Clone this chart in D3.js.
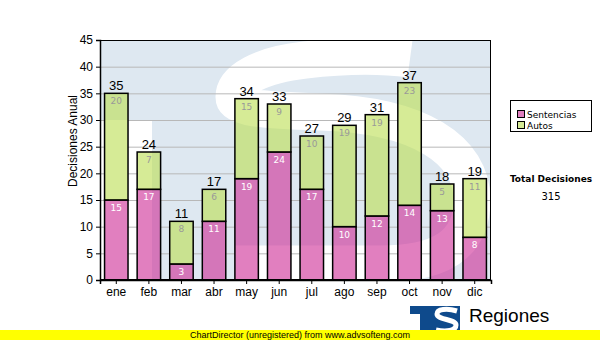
<!DOCTYPE html>
<html>
<head>
<meta charset="utf-8">
<script src="https://cdn.jsdelivr.net/npm/d3@7/dist/d3.min.js"></script>
<style>
  html, body { margin: 0; padding: 0; background: #fff; }
  svg { display: block; }
</style>
</head>
<body>
<svg id="chart" width="600" height="340"></svg>
<script>
// Monthly decisions, split by type
const months = ["ene", "feb", "mar", "abr", "may", "jun", "jul", "ago", "sep", "oct", "nov", "dic"];
const sentencias = [15, 17, 3, 11, 19, 24, 17, 10, 12, 14, 13, 8];
const autos = [20, 7, 8, 6, 15, 9, 10, 19, 19, 23, 5, 11];
const seriesNames = ["Sentencias", "Autos"];
const yTicks = [0, 5, 10, 15, 20, 25, 30, 35, 40, 45];

const svg = d3.select("#chart");
const plot = { left: 100, top: 40, right: 491, bottom: 280 };
const colors = { Sentencias: "rgba(205,42,148,0.6)", Autos: "rgba(187,222,80,0.6)" };
const swatch = { Sentencias: "#e07fbf", Autos: "#d6eb96" };

const x = d3.scaleBand().domain(months).range([plot.left, plot.right])
  .paddingInner(0.28).paddingOuter(0.14);
const y = d3.scaleLinear().domain([0, 45]).range([plot.bottom, plot.top]);

const rows = months.map((m, i) => ({ month: m, Sentencias: sentencias[i], Autos: autos[i] }));
const stacked = d3.stack().keys(seriesNames)(rows);

const defs = svg.append("defs");
defs.append("clipPath").attr("id", "plotClip")
  .append("rect").attr("x", plot.left).attr("y", plot.top)
  .attr("width", plot.right - plot.left).attr("height", plot.bottom - plot.top);

// grid lines are hidden where the bars stand
const mask = defs.append("mask").attr("id", "gridMask");
mask.append("rect").attr("x", 0).attr("y", 0).attr("width", 600).attr("height", 340).attr("fill", "#fff");
mask.selectAll("rect.bar").data(rows).join("rect")
  .attr("x", d => x(d.month)).attr("y", d => y(d.Sentencias + d.Autos))
  .attr("width", x.bandwidth()).attr("height", d => y(0) - y(d.Sentencias + d.Autos))
  .attr("fill", "#000");

// plot background with the emblem watermark
const bg = svg.append("g").attr("clip-path", "url(#plotClip)");
bg.append("rect").attr("x", plot.left).attr("y", plot.top)
  .attr("width", plot.right - plot.left).attr("height", plot.bottom - plot.top)
  .attr("fill", "#dee8f1");
bg.append("rect").attr("x", plot.left).attr("y", 120)
  .attr("width", 52).attr("height", 160).attr("fill", "#fff");
bg.append("path")
  .attr("d", "M 410,59 C 380,55 340,56 305,60 C 260,65 234,80 234,97 C 234,108 260,110 320,112 C 420,115 472,150 472,200 C 472,245 440,264 380,264 L 235,264")
  .attr("fill", "none").attr("stroke", "#fff").attr("stroke-width", 37);

// horizontal grid
svg.append("g").attr("mask", "url(#gridMask)")
  .selectAll("line").data(yTicks.filter(t => t > 0 && t < 45)).join("line")
  .attr("x1", plot.left).attr("x2", plot.right)
  .attr("y1", d => y(d) + 0.5).attr("y2", d => y(d) + 0.5)
  .attr("stroke", "#b8b8b8").attr("stroke-width", 1);

// stacked bars
const layers = svg.append("g").selectAll("g").data(stacked).join("g")
  .attr("fill", d => colors[d.key]);
layers.selectAll("rect").data(d => d).join("rect")
  .attr("x", d => x(d.data.month)).attr("y", d => y(d[1]))
  .attr("width", x.bandwidth()).attr("height", d => y(d[0]) - y(d[1]))
  .attr("stroke", "#000").attr("stroke-width", 1.5);

// segment labels
const segLabels = svg.append("g").attr("font-family", "DejaVu Sans, sans-serif")
  .attr("font-size", 9).attr("text-anchor", "middle");
stacked.forEach(layer => {
  segLabels.append("g").attr("fill", layer.key === "Sentencias" ? "#ffffff" : "#999999")
    .selectAll("text").data(layer).join("text")
    .attr("x", d => x(d.data.month) + x.bandwidth() / 2)
    .attr("y", d => y(d[1]) + 11)
    .text(d => d[1] - d[0]);
});

// totals above bars
svg.append("g").attr("font-family", "Liberation Sans, Arial, sans-serif")
  .attr("font-size", 13).attr("text-anchor", "middle").attr("fill", "#000")
  .selectAll("text").data(rows).join("text")
  .attr("x", d => x(d.month) + x.bandwidth() / 2)
  .attr("y", d => y(d.Sentencias + d.Autos) - 3)
  .text(d => d.Sentencias + d.Autos);

// frame
svg.append("rect").attr("x", plot.left + 0.5).attr("y", plot.top + 0.5)
  .attr("width", plot.right - plot.left - 1).attr("height", plot.bottom - plot.top - 1)
  .attr("fill", "none").attr("stroke", "#000").attr("stroke-width", 1);

// axes
const yAxis = svg.append("g").attr("transform", `translate(${plot.left},0)`)
  .call(d3.axisLeft(y).tickValues(yTicks).tickSize(4).tickPadding(3));
const xAxis = svg.append("g").attr("transform", `translate(0,${plot.bottom})`)
  .call(d3.axisBottom(x).tickSize(4).tickPadding(3));
[yAxis, xAxis].forEach(a => {
  a.select(".domain").attr("stroke", "#000").attr("stroke-width", 1.5);
  a.selectAll(".tick line").attr("stroke", "#000");
  a.selectAll("text").attr("font-family", "Liberation Sans, Arial, sans-serif")
    .attr("font-size", 12).attr("fill", "#000");
});

svg.append("text").attr("transform", "translate(77,141) rotate(-90)")
  .attr("text-anchor", "middle").attr("font-family", "Liberation Sans, Arial, sans-serif")
  .attr("font-size", 12).attr("fill", "#000").text("Decisiones Anual");

// legend
const legend = svg.append("g");
legend.append("rect").attr("x", 510.5).attr("y", 100.5).attr("width", 81).attr("height", 31)
  .attr("fill", "#fff").attr("stroke", "#000");
seriesNames.forEach((name, i) => {
  legend.append("rect").attr("x", 517.5).attr("y", 110.5 + i * 11).attr("width", 7).attr("height", 7)
    .attr("fill", swatch[name]).attr("stroke", "#000");
  legend.append("text").attr("x", 527).attr("y", 118 + i * 11)
    .attr("font-family", "DejaVu Sans, sans-serif").attr("font-size", 9).attr("fill", "#000")
    .text(name);
});

// overall total
svg.append("text").attr("x", 551).attr("y", 182).attr("text-anchor", "middle")
  .attr("font-family", "DejaVu Sans, sans-serif").attr("font-size", 9).attr("font-weight", "bold")
  .text("Total Decisiones");
svg.append("text").attr("x", 551).attr("y", 200).attr("text-anchor", "middle")
  .attr("font-family", "DejaVu Sans, sans-serif").attr("font-size", 10)
  .text(d3.sum(sentencias) + d3.sum(autos));

// emblem and name
const logo = svg.append("g");
logo.append("clipPath").attr("id", "logoClip").append("rect")
  .attr("x", 410).attr("y", 306).attr("width", 50).attr("height", 34);
const lg = logo.append("g").attr("clip-path", "url(#logoClip)");
lg.append("rect").attr("x", 410).attr("y", 306).attr("width", 50).attr("height", 34).attr("fill", "#0e4a8c");
lg.append("rect").attr("x", 410).attr("y", 314).attr("width", 10).attr("height", 26).attr("fill", "#fff");
lg.append("path")
  .attr("d", "M 457,311 C 447,308 437,309 437,314 C 437,320 456,319 456,325 C 456,331 446,332 436,330")
  .attr("fill", "none").attr("stroke", "#fff").attr("stroke-width", 5);
svg.append("text").attr("x", 469).attr("y", 322)
  .attr("font-family", "Liberation Sans, Arial, sans-serif").attr("font-size", 19).attr("fill", "#000")
  .text("Regiones");

// footer strip
svg.append("rect").attr("x", 0).attr("y", 330).attr("width", 600).attr("height", 10).attr("fill", "#ffff00");
svg.append("text").attr("x", 190).attr("y", 338)
  .attr("font-family", "Liberation Sans, Arial, sans-serif").attr("font-size", 9).attr("fill", "#000")
  .text("ChartDirector (unregistered) from www.advsofteng.com");
</script>
</body>
</html>
